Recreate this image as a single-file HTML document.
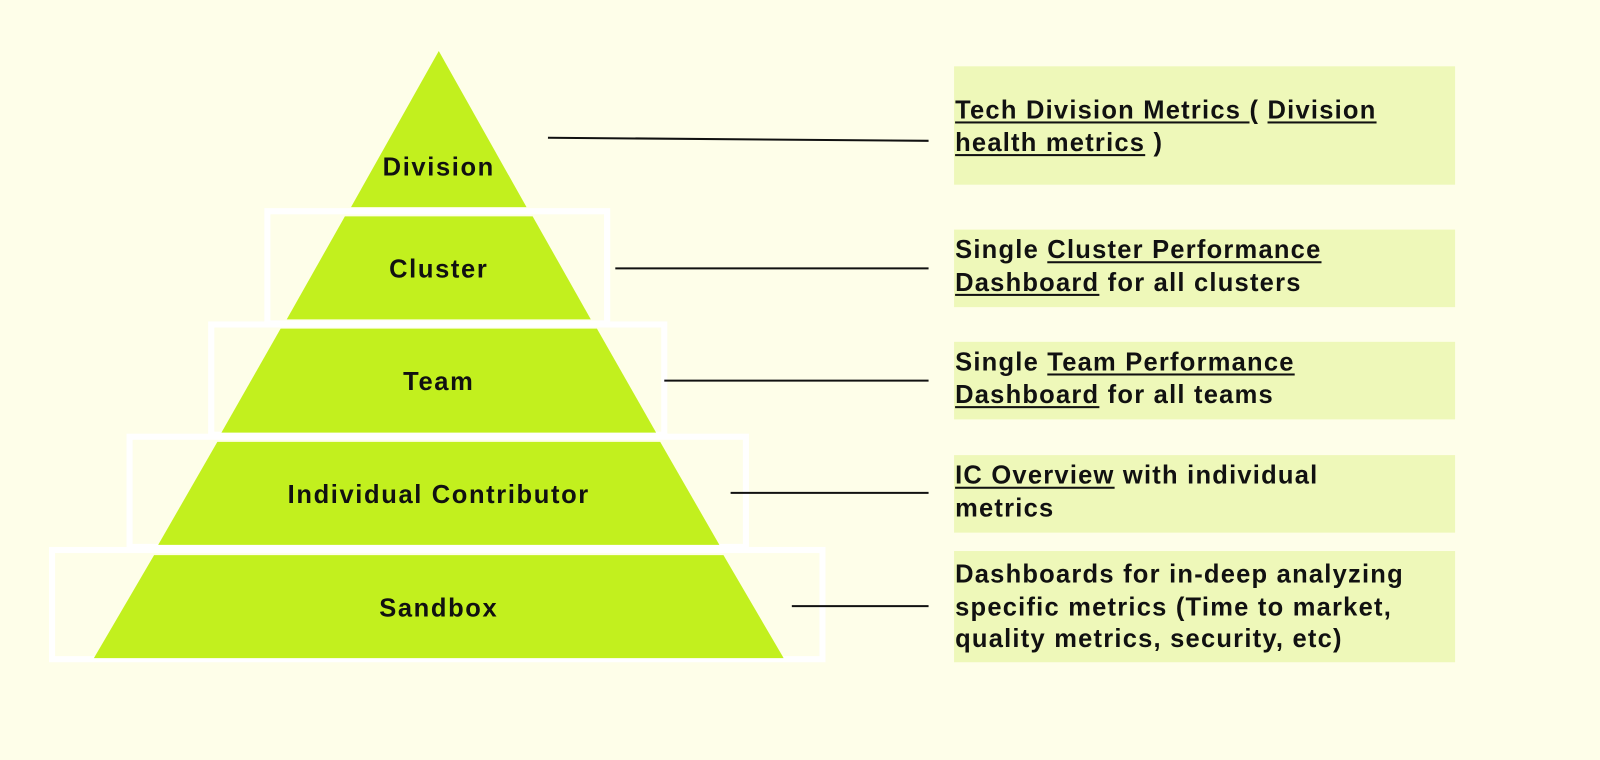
<!DOCTYPE html>
<html><head><meta charset="utf-8"><style>
html,body{margin:0;padding:0;width:1600px;height:760px;background:#fefee9;overflow:hidden;font-family:"Liberation Sans",sans-serif;}
#c{position:absolute;left:0;top:0;width:1568px;height:745px;transform:scale(1.0204);transform-origin:0 0}
.box{position:absolute;left:935px;width:491px;background:#eef8b9;font-weight:bold;font-size:25px;line-height:31.5px;color:#111;box-sizing:border-box;padding-left:1px;letter-spacing:1.2px;white-space:nowrap}
u{text-decoration-thickness:2px;text-underline-offset:3px}
</style></head><body>
<div id="c">
<svg width="1568" height="745" style="position:absolute;left:0;top:0">
<g fill="none" stroke="#ffffff" stroke-width="6">
<rect x="262" y="207" width="333" height="110"/>
<rect x="207" y="318" width="444" height="108"/>
<rect x="127" y="428" width="604" height="108"/>
<rect x="51" y="539" width="755" height="107"/>
</g>
<g fill="#c2f01e">
<polygon points="430,50 516,203 344,203"/>
<polygon points="338,212 522,212 579,313 281,313"/>
<polygon points="275,322 585,322 643,424 217,424"/>
<polygon points="213,433 647,433 705,534 155,534"/>
<polygon points="151,544 709,544 768,645 92,645"/>
</g>
<g font-family="Liberation Sans,sans-serif" font-weight="bold" font-size="25" fill="#111" text-anchor="middle" letter-spacing="1.6">
<text x="430" y="172">Division</text>
<text x="430" y="272">Cluster</text>
<text x="430" y="382">Team</text>
<text x="430" y="493">Individual Contributor</text>
<text x="430" y="604">Sandbox</text>
</g>
<g stroke="#111" stroke-width="2">
<line x1="537" y1="135" x2="910" y2="138"/>
<line x1="603" y1="263" x2="910" y2="263"/>
<line x1="651" y1="373" x2="910" y2="373"/>
<line x1="716" y1="483" x2="910" y2="483"/>
<line x1="776" y1="594" x2="910" y2="594"/>
</g>
</svg>
<div class="box" style="top:65px;height:116px;padding-top:28px"><u>Tech Division Metrics </u>( <u>Division</u><br><u>health metrics</u> )</div>
<div class="box" style="top:225px;height:76px;padding-top:5px">Single <u>Cluster Performance</u><br><u>Dashboard</u> for all clusters</div>
<div class="box" style="top:335px;height:76px;padding-top:5px">Single <u>Team Performance</u><br><u>Dashboard</u> for all teams</div>
<div class="box" style="top:446px;height:76px;padding-top:5px"><u>IC Overview</u> with individual<br>metrics</div>
<div class="box" style="top:540px;height:109px;padding-top:8px">Dashboards for in-deep analyzing<br>specific metrics (Time to market,<br>quality metrics, security, etc)</div>
</div>
</body></html>
